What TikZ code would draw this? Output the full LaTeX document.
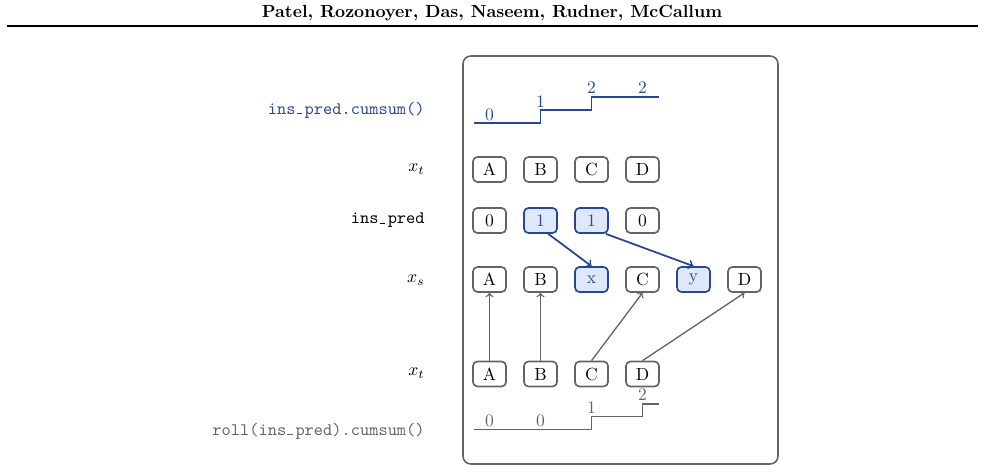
\documentclass[tikz,border=0pt]{standalone}

\definecolor{insblue}{RGB}{40,70,150}
\definecolor{insfill}{RGB}{222,232,250}
\definecolor{boxgray}{RGB}{100,100,100}

\newcommand\usc{\makebox[0.525em][l]{\kern.06em\vrule height 0.4pt depth 0pt width .3em}}

\tikzset{
    tok/.style={draw=boxgray, line width=0.95pt, rounded corners=2.5pt,
        minimum width=0.66cm, minimum height=0.5cm, inner sep=1pt},
    ins/.style={tok, draw=insblue, fill=insfill, text=insblue},
    rowlabel/.style={anchor=east, inner sep=0pt},
}

\begin{document}
\begin{tikzpicture}[x=0.02cm,y=-0.02cm,>=to]
    \useasboundingbox (0,0) rectangle (984,471);
    \node[font=\bfseries] (head) at (492,13) {Patel, Rozonoyer, Das, Naseem, Rudner, McCallum};
    \draw[line width=0.6pt] (7,26) -- (978,26);
    \draw[boxgray, line width=0.9pt, rounded corners=4.5pt] (463,56) rectangle (778,464);

    % row labels
    \node[rowlabel, text=insblue] (lcum) at (425,110) {\texttt{ins\usc pred.cumsum()}};
    \node[rowlabel] (lxt) at (425,169) {$x_t$};
    \node[rowlabel] (lins) at (425,220) {\texttt{ins\usc pred}};
    \node[rowlabel] (lxs) at (425,280) {$x_s$};
    \node[rowlabel] (lxb) at (425,373) {$x_t$};
    \node[rowlabel, text=boxgray] (lroll) at (425,431) {\texttt{roll(ins\usc pred).cumsum()}};

    % token rows
    \foreach \t [count=\i] in {A,B,C,D}
        \node[tok] (t\i) at (438.5+51*\i,169.5) {\t};
    \foreach \t/\s [count=\i] in {0/tok,1/ins,1/ins,0/tok}
        \node[\s] (p\i) at (438.5+51*\i,220.5) {\t};
    \foreach \t/\s [count=\i] in {A/tok,B/tok,x/ins,C/tok,y/ins,D/tok}
        \node[\s] (s\i) at (438.5+51*\i,279.5) {\t};
    \foreach \t [count=\i] in {A,B,C,D}
        \node[tok] (b\i) at (438.5+51*\i,374) {\t};

    % cumsum steps
    \draw[insblue, line width=1.1pt] (474,123) -- (540.5,123) -- (540.5,110)
        -- (591.5,110) -- (591.5,97) -- (659,97);
    \foreach \v/\x/\y [count=\i] in {0/489.5/115,1/540.5/101.5,2/591.5/88,2/642.5/88}
        \node[text=insblue, inner sep=0pt] (c\i) at (\x,\y) {\v};
    \draw[boxgray, line width=1.1pt] (474,429.5) -- (591.5,429.5) -- (591.5,416.5)
        -- (642.5,416.5) -- (642.5,404) -- (659,404);
    \foreach \v/\x/\y [count=\i] in {0/489.5/421,0/540.5/421,1/591.5/408,2/642.5/395}
        \node[text=boxgray, inner sep=0pt] (r\i) at (\x,\y) {\v};

    % insertions
    \draw[->, insblue, line width=1pt] (p2.-60) -- (s3.north);
    \draw[->, insblue, line width=1pt] (p3.-43) -- (s5.north);
    \draw[->, boxgray, line width=0.75pt] (b1.north) -- (s1.south);
    \draw[->, boxgray, line width=0.75pt] (b2.north) -- (s2.south);
    \draw[->, boxgray, line width=0.75pt] (b3.north) -- (s4.south);
    \draw[->, boxgray, line width=0.75pt] (b4.north) -- (s6.south);
\end{tikzpicture}
\end{document}
